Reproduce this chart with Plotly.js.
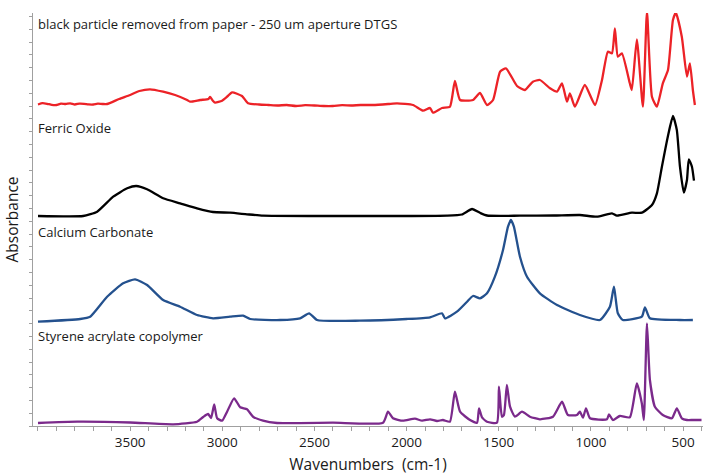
<!DOCTYPE html>
<html>
<head>
<meta charset="utf-8">
<script src="https://cdn.plot.ly/plotly-3.0.1.min.js"></script>
<style>html,body{margin:0;padding:0;background:#fff;}#chart{width:703px;height:475px;}</style>
</head>
<body>
<div id="chart"></div>
<script>
// ---- Data (wavenumbers in cm-1, absorbance in relative units) ----
const seriesNames = [
  "black particle removed from paper - 250 um aperture DTGS",
  "Ferric Oxide",
  "Calcium Carbonate",
  "Styrene acrylate copolymer"
];

const particleWn = [4000,3975,3950,3925,3900,3875,3850,3825,3800,3775,3750,3725,3700,3675,3650,3625,3560,3500,3450,3392,3321,3256,3191,3175,3120,3075,3066,3050,3039,3001,2970,2947,2893,2860,2800,2750,2700,2650,2600,2550,2500,2450,2400,2350,2300,2250,2182,2100,2052,1965,1911,1873,1857,1808,1765,1738,1710,1640,1602,1564,1531,1493,1461,1401,1358,1315,1277,1222,1184,1157,1130,1114,1087,1033,978,940,908,886,870,854,832,789,778,751,718,696,669,642,610,582,555,539,507,479,463,447,436];
const particleAbs = [-0.005,0.008,0.002,-0.008,-0.01,0.004,0,0.006,-0.005,0.004,0.002,-0.004,-0.005,0.003,0,0,0.05,0.09,0.13,0.147,0.123,0.09,0.04,0.023,0.04,0.05,0.07,0.03,0.013,0.033,0.08,0.117,0.08,0.007,-0.005,-0.01,-0.015,-0.01,-0.02,-0.012,-0.015,-0.02,-0.02,-0.012,-0.015,-0.01,-0.01,0,0.007,-0.01,-0.067,-0.04,-0.087,-0.04,-0.027,0.23,0.04,0.04,0.11,-0.01,0.04,0.323,0.357,0.18,0.14,0.223,0.24,0.157,0.123,0.207,0.023,0.107,-0.027,0.19,-0.01,0.24,0.523,0.507,0.757,0.473,0.507,0.207,0.14,0.647,-0.027,0.923,0.073,-0.027,0.207,0.34,0.84,0.913,0.673,0.273,0.407,0.14,-0.01];

const ferricWn = [4000,3755,3679,3592,3516,3467,3408,3321,3229,3137,3050,2958,2866,2779,2500,2253,2000,1781,1700,1645,1600,1564,1385,1200,1060,968,886,859,778,724,669,642,615,583,555,534,517,496,479,469,452,441];
const ferricAbs = [0,0,0.043,0.193,0.277,0.30,0.267,0.177,0.127,0.077,0.04,0.033,0.017,0.003,0,0,0,0.003,0.015,0.07,0.03,0.005,0.003,0.005,0.01,-0.007,0.027,0.003,0.033,0.033,0.11,0.227,0.493,0.793,1.0,0.86,0.493,0.233,0.36,0.567,0.493,0.353];

const carbonateWn = [4000,3771,3717,3625,3538,3473,3408,3321,3229,3137,3050,2958,2887,2849,2687,2578,2529,2486,2253,2000,1873,1808,1792,1727,1672,1640,1602,1564,1521,1477,1450,1434,1418,1385,1347,1277,1184,1060,951,897,875,854,827,724,707,680,517,447];
const carbonateAbs = [-0.007,0.02,0.043,0.243,0.377,0.417,0.36,0.21,0.143,0.06,0.027,0.043,0.053,0.02,0.01,0.027,0.077,0.01,0.003,0.02,0.037,0.077,0.027,0.093,0.193,0.25,0.227,0.277,0.443,0.71,0.943,1.01,0.943,0.643,0.443,0.277,0.16,0.06,0.01,0.143,0.343,0.077,0.01,0.043,0.137,0.027,0.01,0.01];

const styreneWn = [4000,3787,3500,3267,3137,3104,3077,3061,3044,3028,3001,2974,2936,2903,2866,2833,2779,2703,2400,2128,2101,2074,2020,1955,1916,1873,1835,1803,1765,1738,1710,1656,1618,1607,1591,1564,1510,1499,1483,1472,1456,1439,1412,1374,1331,1277,1206,1157,1125,1076,1060,1043,1027,1005,913,902,881,843,789,751,724,713,696,680,653,610,561,534,507,479,447,400];
const styreneAbs = [0,0.013,0.005,-0.013,0.013,0.06,0.09,0.05,0.185,0.047,0.023,0.113,0.247,0.157,0.137,0.063,0.023,0,0.003,0.003,0.113,0.047,0.023,0.043,0.023,0.037,0.02,0.03,0.013,0.313,0.113,0.03,0.003,0.147,0.057,0.013,0.003,0.363,0.063,0.08,0.38,0.163,0.063,0.113,0.063,0.037,0.063,0.213,0.08,0.08,0.113,0.053,0.147,0.047,0.037,0.087,0.03,0.07,0.057,0.397,0.197,0.03,0.997,0.43,0.163,0.08,0.047,0.147,0.047,0.03,0.03,0.03];

const xTickVals = [3500,3000,2500,2000,1500,1000,500];
const xTickText = ["3500","3000","2500","2000","1500","1000","500"];

// ---- Presentation (stack offsets, colours) ----
const offsets = [3.22, 2.10, 1.05, 0.03];
const colors = ["#ec2227", "#000000", "#24518e", "#7b2a8b"];
const labelY = [4.02, 2.98, 1.94, 0.90];

const xs = [particleWn, ferricWn, carbonateWn, styreneWn];
const ys = [particleAbs, ferricAbs, carbonateAbs, styreneAbs];

const traces = xs.map((x, i) => ({
  x: x,
  y: ys[i].map(v => v + offsets[i]),
  type: "scatter",
  mode: "lines",
  name: seriesNames[i],
  line: {color: colors[i], width: 2.3, shape: "spline", smoothing: 0.5},
  hoverinfo: "skip"
}));

const annotations = seriesNames.map((t, i) => ({
  text: t, xref: "paper", yref: "y", x: 0.004, y: labelY[i],
  xanchor: "left", yanchor: "middle", showarrow: false,
  font: {family: "Open Sans, sans-serif", size: 13, color: "#1a1a1a"}
}));

const layout = {
  width: 703, height: 475,
  margin: {l: 33, r: 0, t: 13, b: 49},
  paper_bgcolor: "#ffffff", plot_bgcolor: "#ffffff",
  showlegend: false,
  font: {family: "Open Sans, sans-serif", color: "#1a1a1a"},
  xaxis: {
    range: [4027, 392],
    tickvals: xTickVals, ticktext: xTickText,
    ticks: "outside", ticklen: 4, tickcolor: "#a0a0a0", tickwidth: 1,
    minor: {dtick: 100, tick0: 0, ticks: "outside", ticklen: 4, tickcolor: "#a0a0a0"},
    showline: true, linecolor: "#a0a0a0", linewidth: 1,
    showgrid: false, zeroline: false,
    tickfont: {size: 13.5, color: "#1a1a1a"},
    title: {text: "Wavenumbers  (cm-1)", font: {size: 15.5, color: "#1a1a1a"}, standoff: 10}
  },
  yaxis: {
    range: [0, 4.13],
    tick0: 0, dtick: 0.128,
    ticks: "outside", ticklen: 3, tickcolor: "#a0a0a0",
    showticklabels: false,
    showline: true, linecolor: "#a0a0a0", linewidth: 1,
    showgrid: false, zeroline: false,
    title: {text: "Absorbance", font: {size: 15.5, color: "#1a1a1a"}, standoff: 6}
  },
  annotations: annotations
};

Plotly.newPlot("chart", traces, layout, {staticPlot: true, displayModeBar: false});
</script>
</body>
</html>
